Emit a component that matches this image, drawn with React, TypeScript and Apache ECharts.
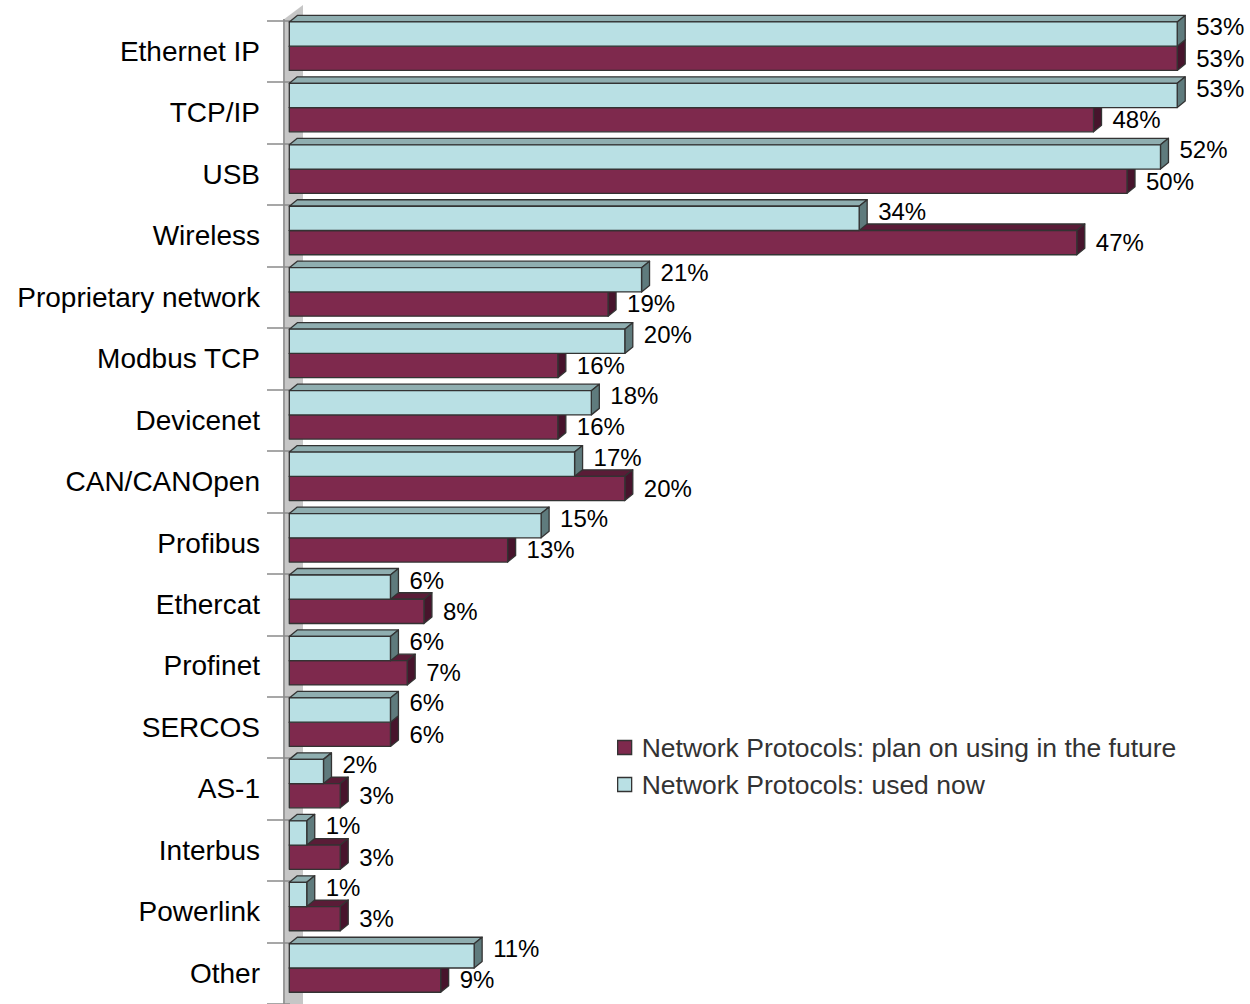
import React, { useEffect, useRef } from "react";
import * as echarts from "echarts";

const categories = [
  "Ethernet IP", "TCP/IP", "USB", "Wireless", "Proprietary network", "Modbus TCP",
  "Devicenet", "CAN/CANOpen", "Profibus", "Ethercat", "Profinet", "SERCOS",
  "AS-1", "Interbus", "Powerlink", "Other",
];
const usedNow = [53, 53, 52, 34, 21, 20, 18, 17, 15, 6, 6, 6, 2, 1, 1, 11];
const planFuture = [53, 48, 50, 47, 19, 16, 16, 20, 13, 8, 7, 6, 3, 3, 3, 9];
const seriesNames = [
  "Network Protocols: plan on using in the future",
  "Network Protocols: used now",
];

const FONT = "'Liberation Sans', Arial, Helvetica, sans-serif";

const palettes = {
  cyan: { front: "#B9E0E4", top: "#8FAEB0", side: "#5F7B7D" },
  maroon: { front: "#7E294D", top: "#5A1C37", side: "#47142C" },
};

function makeRender(pal: any, isUpper: boolean) {
  return (params: any, api: any) => {
    const cat = api.value(1);
    const v = api.value(0);
    const start = api.coord([0, cat]);
    const end = api.coord([v, cat]);
    const band = api.size([0, 1])[1];
    const s = band / 61.6;
    const cy = start[1];
    const h = 24.3 * s;
    const top = isUpper ? cy - 29.6 * s : cy - 5.3 * s;
    const x0 = start[0] - 0.7;
    const x1 = end[0];
    const dx = 8;
    const dy = 6.5;
    const stroke = { stroke: "#333333", lineWidth: 1.3, lineJoin: "round" };
    return {
      type: "group",
      children: [
        {
          type: "polygon",
          shape: { points: [[x0, top], [x0 + dx, top - dy], [x1 + dx, top - dy], [x1, top]] },
          style: { fill: pal.top, ...stroke },
        },
        {
          type: "polygon",
          shape: { points: [[x1, top], [x1 + dx, top - dy], [x1 + dx, top + h - dy], [x1, top + h]] },
          style: { fill: pal.side, ...stroke },
        },
        {
          type: "rect",
          shape: { x: x0, y: top, width: x1 - x0, height: h },
          style: { fill: pal.front, ...stroke },
        },
        {
          type: "text",
          x: x1 + 19,
          y: top + (isUpper ? 5 : 12),
          style: {
            text: v + "%",
            fontSize: 24,
            fontFamily: FONT,
            fill: "#000000",
            align: "left",
            verticalAlign: "middle",
          },
        },
      ],
    };
  };
}

export default function App() {
  const ref = useRef<HTMLDivElement>(null);
  useEffect(() => {
    if (!ref.current) return;
    const chart = echarts.init(ref.current, null, { renderer: "svg" });
    const option: any = {
      animation: false,
      backgroundColor: "#ffffff",
      grid: { left: 290, top: 20.7, width: 56 * 16.74, height: 16 * 61.6, containLabel: false },
      xAxis: { type: "value", min: 0, max: 56, show: false },
      yAxis: {
        type: "category",
        data: categories,
        inverse: true,
        axisLine: { show: false },
        axisTick: { show: true, length: 23, lineStyle: { color: "#8a8a8a", width: 1.5 } },
        axisLabel: { fontSize: 28, fontFamily: FONT, color: "#000000", margin: 30 },
        splitLine: { show: false },
      },
      legend: {
        orient: "vertical",
        left: 617,
        top: 734,
        padding: 0,
        itemGap: 10,
        itemWidth: 14,
        itemHeight: 14,
        icon: "rect",
        textStyle: { fontSize: 26.5, fontFamily: FONT, color: "#333333", lineHeight: 27, padding: [0, 0, 0, 5] },
        data: [
          { name: seriesNames[0], itemStyle: { color: palettes.maroon.front, borderColor: "#333", borderWidth: 1.3 } },
          { name: seriesNames[1], itemStyle: { color: palettes.cyan.front, borderColor: "#333", borderWidth: 1.3 } },
        ],
      },
      graphic: [
        {
          type: "polygon",
          z: -10,
          shape: { points: [[283, 20], [303, 5], [303, 1004], [283, 1004]] },
          style: { fill: "#c6c6c6" },
        },
        {
          type: "line",
          z: -9,
          shape: { x1: 284, y1: 19, x2: 284, y2: 1004 },
          style: { stroke: "#9a9a9a", lineWidth: 2 },
        },
      ],
      series: [
        {
          type: "custom",
          name: seriesNames[0],
          itemStyle: { color: palettes.maroon.front },
          encode: { x: 0, y: 1 },
          data: planFuture.map((v, i) => [v, i]),
          renderItem: makeRender(palettes.maroon, false),
          z: 3,
        },
        {
          type: "custom",
          name: seriesNames[1],
          itemStyle: { color: palettes.cyan.front },
          encode: { x: 0, y: 1 },
          data: usedNow.map((v, i) => [v, i]),
          renderItem: makeRender(palettes.cyan, true),
          z: 4,
        },
      ],
    };
    chart.setOption(option);
    return () => chart.dispose();
  }, []);
  return (
    <div
      ref={ref}
      style={{ position: "absolute", left: 0, top: 0, width: 1250, height: 1004, background: "#fff" }}
    />
  );
}
